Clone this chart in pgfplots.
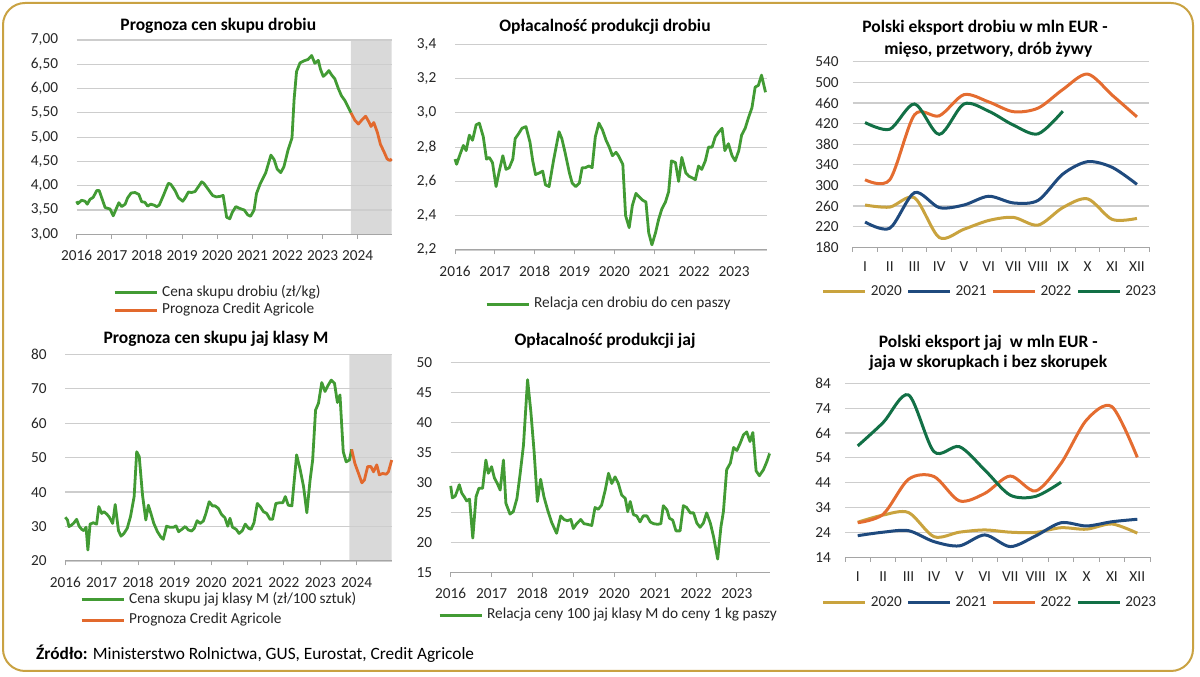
\documentclass[border=0pt]{standalone}
\usepackage{pgfplots}
\pgfplotsset{compat=1.18}
\usepackage{fontspec}
\setmainfont{Carlito}
\definecolor{cgreen}{RGB}{66,155,52}
\definecolor{corange}{RGB}{226,105,45}
\definecolor{cgold}{RGB}{201,163,62}
\definecolor{cblue}{RGB}{31,74,126}
\definecolor{corg}{RGB}{228,108,48}
\definecolor{cdgreen}{RGB}{18,112,70}
\definecolor{cborder}{RGB}{201,162,66}
\definecolor{cshade}{RGB}{217,217,217}
\definecolor{cgrid}{RGB}{205,205,205}
\definecolor{ctick}{RGB}{165,165,165}
\pgfplotsset{
  base/.style={
    scale only axis, set layers, clip=false,
    axis x line*=bottom, axis y line*=left,
    x axis line style={-, draw=ctick, line width=1bp},
    y axis line style={draw=none},
    ymajorgrids, major grid style={draw=cgrid, line width=1.2bp},
    tick align=outside,
    tick style={draw=ctick, line width=1bp},
    ytick style={draw=none},
    major tick length=4.5bp, minor tick length=4.5bp,
    /pgf/number format/assume math mode=true,
    tick label style={font=\fontsize{15.3bp}{17bp}\selectfont, text=black!85},
    yticklabel style={anchor=east, inner sep=0pt, xshift=-14bp},
    xticklabel style={anchor=north, inner sep=0pt, yshift=-11.5bp},
    legend style={draw=none, fill=none, inner sep=0pt, anchor=north west,
      font=\fontsize{15.3bp}{17bp}\selectfont, text=black!85,
      nodes={inner sep=0pt, text height=10.5bp, text depth=3.5bp},
      /tikz/every odd column/.style={column sep=4bp},
      /tikz/every even column/.style={column sep=5bp}},
    legend cell align=left,
    legend image code/.code={\draw[##1, line width=3bp] (0bp,0bp) -- (42bp,0bp);},
  },
  years/.style={xtick={0,...,8}, xticklabels={2016,2017,2018,2019,2020,2021,2022,2023,2024}},
  months/.style={xmin=0.5, xmax=12.5, xtick={1,...,12}, major tick length=0pt,
    minor xtick={0.5,1.5,...,12.5},
    xticklabels={I,II,III,IV,V,VI,VII,VIII,IX,X,XI,XII},
    xticklabel style={yshift=-2.5bp},
    legend columns=4,
    legend style={font=\fontsize{15.2bp}{17bp}\selectfont}},
  gl/.style={cgreen, line width=2.8bp, line join=round},
  ol/.style={corange, line width=2.8bp, line join=round},
  sm/.style={smooth, line width=3bp},
}
\begin{document}
\begin{tikzpicture}[x=1bp,y=1bp]
\path (0,0) rectangle (1200,677);
\draw[cborder, line width=2bp, rounded corners=22bp] (3,6) rectangle (1193,674);

% ---------- Panel 1
\begin{axis}[base, years, at={(76.7bp,442.7bp)}, anchor=south west, width=315bp, height=194.3bp,
  xmin=0, xmax=8.97, ymin=3, ymax=7,
  ytick={3,3.5,4,4.5,5,5.5,6,6.5,7},
  yticklabels={{3,00},{3,50},{4,00},{4,50},{5,00},{5,50},{6,00},{6,50},{7,00}},
  legend style={at={(axis description cs:0.115,-0.264)}, /tikz/row sep=3.3bp}]
\addplot[on layer=axis background, fill=cshade, draw=none, forget plot]
  coordinates {(7.81,3) (8.97,3) (8.97,7) (7.81,7) (7.81,3)};
\addplot[gl] coordinates {
(0.00,3.68)(0.03,3.63)(0.14,3.70)(0.24,3.68)(0.30,3.62)(0.38,3.72)(0.47,3.76)(0.57,3.90)
(0.64,3.90)(0.81,3.55)(0.95,3.52)(1.04,3.38)(1.14,3.55)(1.20,3.65)(1.28,3.57)(1.38,3.62)
(1.45,3.75)(1.55,3.85)(1.66,3.86)(1.77,3.82)(1.85,3.67)(1.94,3.66)(2.02,3.58)(2.11,3.62)
(2.20,3.60)(2.28,3.57)(2.35,3.60)(2.47,3.80)(2.61,4.05)(2.68,4.03)(2.80,3.90)(2.90,3.75)
(3.02,3.68)(3.09,3.75)(3.18,3.87)(3.27,3.86)(3.37,3.88)(3.56,4.08)(3.62,4.05)(3.72,3.95)
(3.87,3.80)(3.97,3.77)(4.08,3.78)(4.17,3.80)(4.27,3.35)(4.36,3.32)(4.43,3.45)(4.53,3.57)
(4.65,3.53)(4.77,3.50)(4.87,3.40)(4.95,3.37)(5.05,3.50)(5.12,3.84)(5.22,4.03)(5.38,4.26)
(5.53,4.63)(5.62,4.54)(5.71,4.34)(5.81,4.27)(5.90,4.39)(6.02,4.74)(6.13,4.98)(6.19,5.77)
(6.26,6.35)(6.36,6.53)(6.47,6.57)(6.59,6.60)(6.69,6.68)(6.78,6.52)(6.88,6.58)(6.94,6.40)
(7.02,6.25)(7.10,6.30)(7.18,6.37)(7.26,6.28)(7.35,6.20)(7.45,6.00)(7.54,5.85)(7.64,5.75)
(7.71,5.65)(7.81,5.50)};
\addplot[ol] coordinates {
(7.81,5.50)(7.92,5.35)(8.02,5.27)(8.14,5.37)(8.23,5.43)(8.33,5.30)(8.38,5.22)(8.46,5.30)
(8.56,5.10)(8.65,4.85)(8.75,4.70)(8.84,4.55)(8.92,4.52)(8.97,4.55)};
\legend{Cena skupu drobiu (zł/kg),Prognoza Credit Agricole}
\end{axis}

% ---------- Panel 2
\begin{axis}[base, at={(455bp,427bp)}, anchor=south west, width=311.7bp, height=205.7bp,
  xmin=0, xmax=7.82, ymin=2.2, ymax=3.4,
  xtick={0,...,7}, xticklabels={2016,2017,2018,2019,2020,2021,2022,2023},
  ytick={2.2,2.4,2.6,2.8,3.0,3.2,3.4},
  yticklabels={{2,2},{2,4},{2,6},{2,8},{3,0},{3,2},{3,4}},
  legend style={at={(axis description cs:0.096,-0.229)}}]
\addplot[gl] coordinates {
(0.00,2.73)(0.04,2.70)(0.13,2.76)(0.21,2.81)(0.28,2.78)(0.36,2.87)(0.44,2.84)(0.53,2.93)
(0.61,2.94)(0.71,2.86)(0.79,2.73)(0.86,2.74)(0.94,2.71)(1.03,2.57)(1.11,2.66)(1.20,2.75)
(1.28,2.67)(1.36,2.68)(1.45,2.73)(1.51,2.85)(1.60,2.88)(1.68,2.91)(1.78,2.92)(1.88,2.83)
(1.95,2.72)(2.02,2.64)(2.12,2.65)(2.20,2.66)(2.27,2.58)(2.36,2.57)(2.47,2.72)(2.61,2.89)
(2.68,2.85)(2.76,2.77)(2.87,2.65)(2.94,2.59)(3.03,2.57)(3.12,2.59)(3.19,2.68)(3.27,2.68)
(3.36,2.69)(3.44,2.68)(3.52,2.86)(3.61,2.94)(3.70,2.90)(3.79,2.84)(3.87,2.80)(3.95,2.75)
(4.04,2.77)(4.10,2.75)(4.21,2.70)(4.28,2.40)(4.37,2.33)(4.45,2.46)(4.54,2.53)(4.62,2.51)
(4.71,2.49)(4.79,2.48)(4.86,2.30)(4.94,2.23)(5.03,2.30)(5.11,2.38)(5.19,2.44)(5.28,2.48)
(5.36,2.54)(5.43,2.72)(5.53,2.71)(5.61,2.60)(5.69,2.74)(5.79,2.65)(5.87,2.63)(5.96,2.62)
(6.03,2.61)(6.11,2.69)(6.19,2.67)(6.28,2.72)(6.36,2.80)(6.45,2.80)(6.53,2.86)(6.62,2.89)
(6.70,2.91)(6.77,2.78)(6.86,2.82)(6.95,2.75)(7.03,2.72)(7.12,2.78)(7.19,2.87)(7.28,2.91)
(7.36,2.97)(7.45,3.03)(7.53,3.15)(7.61,3.16)(7.69,3.22)(7.79,3.12)};
\legend{Relacja cen drobiu do cen paszy}
\end{axis}

% ---------- Panel 3
\begin{axis}[base, months, at={(852.7bp,429.7bp)}, anchor=south west, width=296.6bp, height=185.6bp,
  ymin=180, ymax=540, ytick={180,220,...,540},
  legend style={at={(axis description cs:-0.1045,-0.201)}}]
\addplot[cgold, sm] coordinates {(1,262)(2,258)(3,276)(4,199)(5,215)(6,232)(7,238)(8,223)(9,257)(10,274)(11,234)(12,236)};
\addplot[cblue, sm] coordinates {(1,229)(2,217)(3,286)(4,257)(5,262)(6,279)(7,266)(8,271)(9,322)(10,346)(11,335)(12,302)};
\addplot[corg, sm] coordinates {(1,311)(2,311)(3,437)(4,435)(5,476)(6,462)(7,443)(8,450)(9,486)(10,516)(11,475)(12,433)};
\addplot[cdgreen, sm] coordinates {(1,422)(2,409)(3,458)(4,399)(5,458)(6,444)(7,417)(8,400)(9,444)};
\legend{2020,2021,2022,2023}
\end{axis}

% ---------- Panel 4
\begin{axis}[base, years, at={(65.3bp,116bp)}, anchor=south west, width=326.4bp, height=206.7bp,
  xmin=0, xmax=8.96, ymin=20, ymax=80, ytick={20,30,...,80},
  legend style={at={(axis description cs:0.045,-0.152)}, /tikz/row sep=6.7bp}]
\addplot[on layer=axis background, fill=cshade, draw=none, forget plot]
  coordinates {(7.80,20) (8.96,20) (8.96,80) (7.80,80) (7.80,20)};
\addplot[gl] coordinates {
(0.00,32.7)(0.06,31.9)(0.10,30.0)(0.17,30.4)(0.24,31.1)(0.31,32.1)(0.38,30.1)(0.45,29.2)
(0.51,28.8)(0.57,29.8)(0.62,23.2)(0.68,30.7)(0.77,31.1)(0.86,30.7)(0.92,35.8)(1.00,33.8)
(1.06,34.3)(1.14,33.6)(1.21,32.7)(1.30,30.9)(1.37,36.4)(1.46,28.8)(1.53,27.2)(1.61,28.0)
(1.70,29.5)(1.79,32.9)(1.89,38.7)(1.96,51.7)(2.03,50.3)(2.12,39.1)(2.21,31.9)(2.28,36.2)
(2.35,33.8)(2.43,30.9)(2.53,28.5)(2.62,27.0)(2.69,26.3)(2.78,30.1)(2.87,29.8)(2.97,29.8)
(3.04,30.2)(3.11,28.5)(3.20,29.2)(3.29,30.0)(3.38,29.0)(3.47,28.7)(3.54,29.5)(3.62,31.7)
(3.70,30.9)(3.79,31.6)(3.86,33.8)(3.95,37.2)(4.04,36.0)(4.11,36.0)(4.20,35.3)(4.29,33.5)
(4.38,32.6)(4.46,30.1)(4.52,32.4)(4.59,29.8)(4.69,29.2)(4.77,28.0)(4.86,28.8)(4.94,30.7)
(5.03,29.5)(5.10,29.2)(5.18,31.1)(5.27,36.7)(5.35,35.8)(5.44,34.3)(5.53,33.8)(5.62,32.1)
(5.69,32.1)(5.78,36.7)(5.88,36.9)(5.97,36.9)(6.04,38.7)(6.12,36.2)(6.22,36.0)(6.35,50.8)
(6.44,46.9)(6.54,41.6)(6.63,34.0)(6.72,43.5)(6.79,49.3)(6.87,63.8)(6.95,65.8)(7.04,71.8)
(7.13,69.2)(7.22,71.1)(7.30,72.5)(7.39,71.6)(7.47,66.0)(7.54,68.2)(7.63,51.7)(7.71,48.8)
(7.80,49.3)(7.86,52.4)};
\addplot[ol] coordinates {
(7.86,52.4)(7.95,48.3)(8.05,45.4)(8.14,42.7)(8.21,43.5)(8.30,47.4)(8.39,47.4)(8.46,45.9)
(8.55,47.9)(8.62,45.0)(8.71,45.4)(8.81,45.2)(8.87,45.9)(8.96,49.3)};
\legend{Cena skupu jaj klasy M (zł/100 sztuk),Prognoza Credit Agricole}
\end{axis}

% ---------- Panel 5
\begin{axis}[base, at={(450.7bp,104.7bp)}, anchor=south west, width=319.3bp, height=210bp,
  xmin=0, xmax=7.81, ymin=15, ymax=50, ytick={15,20,...,50},
  xtick={0,...,7}, xticklabels={2016,2017,2018,2019,2020,2021,2022,2023},
  legend style={at={(axis description cs:-0.040,-0.170)}}]
\addplot[gl] coordinates {
(0.00,29.4)(0.04,27.4)(0.11,27.7)(0.16,28.6)(0.21,29.6)(0.27,28.2)(0.33,27.6)(0.39,26.9)
(0.46,27.2)(0.54,20.7)(0.62,27.6)(0.69,29.0)(0.78,29.0)(0.86,33.7)(0.92,31.5)(1.00,32.6)
(1.07,30.7)(1.14,29.8)(1.21,28.7)(1.29,33.7)(1.35,26.5)(1.45,24.7)(1.53,25.1)(1.62,27.3)
(1.70,31.5)(1.78,36.2)(1.88,47.1)(1.96,41.8)(2.04,35.1)(2.12,26.8)(2.20,30.5)(2.28,27.6)
(2.37,25.4)(2.47,23.3)(2.59,21.5)(2.69,24.4)(2.77,23.8)(2.85,23.6)(2.94,23.8)(3.00,22.3)
(3.08,23.1)(3.18,23.8)(3.26,23.1)(3.34,23.0)(3.45,22.8)(3.53,25.8)(3.61,25.5)(3.69,26.2)
(3.78,28.7)(3.86,31.5)(3.94,29.8)(4.02,30.9)(4.10,29.8)(4.18,27.9)(4.27,27.3)(4.33,25.1)
(4.39,26.8)(4.47,24.6)(4.55,24.4)(4.63,23.4)(4.71,24.4)(4.80,24.4)(4.88,23.4)(4.96,23.1)
(5.06,23.0)(5.14,23.1)(5.20,26.1)(5.29,25.4)(5.35,24.0)(5.43,23.7)(5.51,21.9)(5.61,21.9)
(5.69,26.1)(5.77,25.8)(5.86,24.9)(5.94,24.9)(6.02,23.2)(6.10,22.5)(6.18,23.2)(6.26,24.9)
(6.35,23.2)(6.43,20.9)(6.53,17.2)(6.61,22.6)(6.67,25.1)(6.75,32.1)(6.84,33.2)(6.92,35.8)
(7.00,35.3)(7.08,36.5)(7.16,37.9)(7.24,38.4)(7.32,36.8)(7.39,38.3)(7.47,31.9)(7.55,31.1)
(7.65,32.1)(7.73,33.4)(7.80,34.8)};
\legend{Relacja ceny 100 jaj klasy M do ceny 1 kg paszy}
\end{axis}

% ---------- Panel 6
\begin{axis}[base, months, at={(845bp,119.7bp)}, anchor=south west, width=305bp, height=174bp,
  ymin=14, ymax=84, ytick={14,24,...,84},
  legend style={at={(axis description cs:-0.0764,-0.221)}}]
\addplot[cgold, sm] coordinates {(1,28.1)(2,31.0)(3,32.0)(4,22.3)(5,24.1)(6,25.0)(7,24.1)(8,24.0)(9,25.9)(10,25.3)(11,27.4)(12,23.7)};
\addplot[cblue, sm] coordinates {(1,22.7)(2,24.1)(3,24.7)(4,20.3)(5,18.6)(6,23.0)(7,18.3)(8,22.6)(9,27.9)(10,26.6)(11,28.3)(12,29.3)};
\addplot[corg, sm] coordinates {(1,27.9)(2,31.3)(3,45.4)(4,46.5)(5,36.7)(6,39.7)(7,46.7)(8,40.7)(9,51.8)(10,69.2)(11,74.6)(12,54.2)};
\addplot[cdgreen, sm] coordinates {(1,58.8)(2,68.2)(3,79.3)(4,56.5)(5,58.5)(6,49.1)(7,39.0)(8,38.5)(9,44.2)};
\legend{2020,2021,2022,2023}
\end{axis}

% ---------- Titles
\tikzset{ttl/.style={font=\bfseries\fontsize{17.5bp}{20bp}\selectfont, anchor=base, inner sep=0pt}}
\node[ttl] at (218.3,646.3) {Prognoza cen skupu drobiu};
\node[ttl] at (605,645.3) {Opłacalność produkcji drobiu};
\node[ttl] at (985,644.7) {Polski eksport drobiu w mln EUR -};
\node[ttl] at (988.3,622) {mięso, przetwory, drób żywy};
\node[ttl] at (216,333) {Prognoza cen skupu jaj klasy M};
\node[ttl] at (605,331.7) {Opłacalność produkcji jaj};
\node[ttl] at (988.3,329.7) {Polski eksport jaj\ \ w mln EUR -};
\node[ttl] at (988.3,309.3) {jaja w skorupkach i bez skorupek};
\node[font=\fontsize{17.3bp}{20bp}\selectfont, anchor=base west, inner sep=0pt] at (36,17.5)
  {\textbf{Źródło:} Ministerstwo Rolnictwa, GUS, Eurostat, Credit Agricole};
\end{tikzpicture}
\end{document}
